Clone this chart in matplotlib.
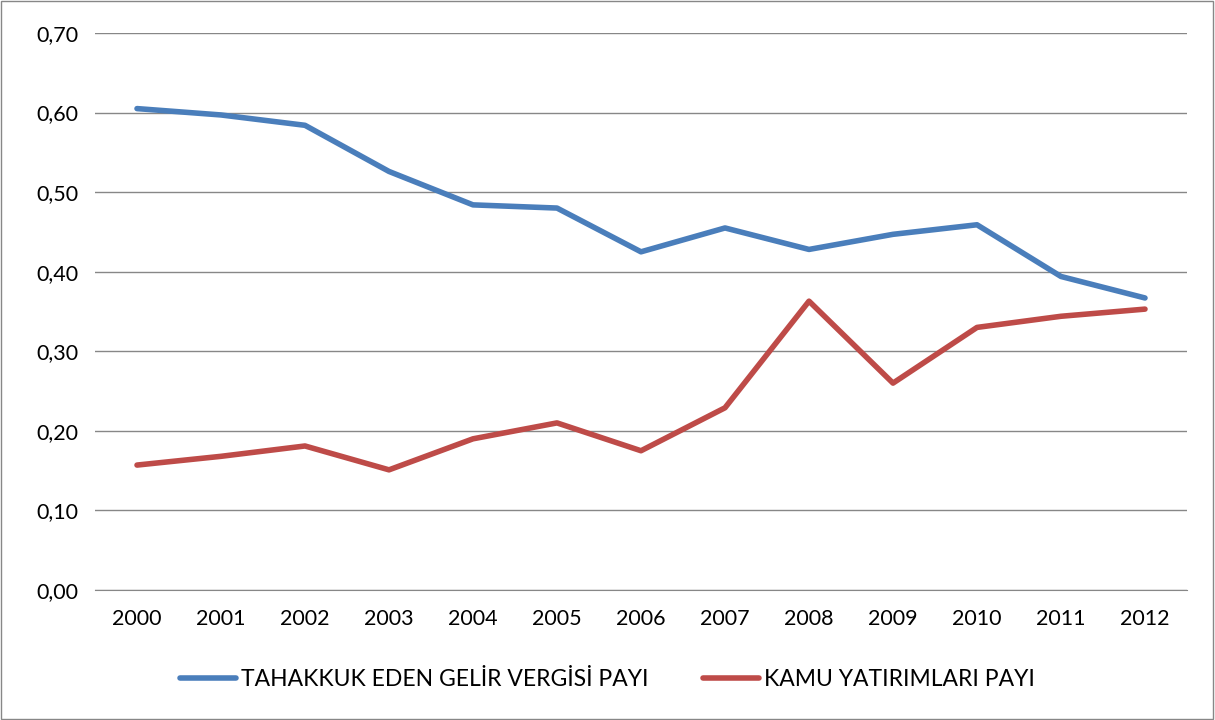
import matplotlib.pyplot as plt
from matplotlib.patches import Rectangle

years = ['2000', '2001', '2002', '2003', '2004', '2005', '2006',
         '2007', '2008', '2009', '2010', '2011', '2012']
gelir = [0.605, 0.597, 0.584, 0.526, 0.484, 0.480, 0.425,
         0.455, 0.428, 0.447, 0.459, 0.394, 0.367]
kamu = [0.157, 0.168, 0.181, 0.151, 0.190, 0.210, 0.175,
        0.229, 0.363, 0.260, 0.330, 0.344, 0.353]
yticks = [0.0, 0.1, 0.2, 0.3, 0.4, 0.5, 0.6, 0.7]

plt.rcParams['font.family'] = ['Lato', 'DejaVu Sans']

W, H = 1215, 720
fig = plt.figure(figsize=(W / 100, H / 100), dpi=100)
ax = fig.add_axes([95 / W, 1 - 590 / H, (1187 - 95) / W, (590 - 33) / H])

x = range(len(years))
ax.plot(x, gelir, color='#4a7ebb', lw=4, label='TAHAKKUK EDEN GELİR VERGİSİ PAYI',
        solid_capstyle='round')
ax.plot(x, kamu, color='#be4b48', lw=4, label='KAMU YATIRIMLARI PAYI',
        solid_capstyle='round')

ax.set_xlim(-0.5, len(years) - 0.5)
ax.set_ylim(0, 0.7)
ax.set_yticks(yticks)
ax.set_yticklabels([f'{v:.2f}'.replace('.', ',') for v in yticks])
ax.set_xticks(list(x))
ax.set_xticklabels(years)
ax.tick_params(axis='both', length=0, labelsize=15.5, colors='black')
ax.tick_params(axis='x', pad=14)
ax.tick_params(axis='y', pad=12)

ax.grid(axis='y', color='#878787', lw=1)
ax.set_axisbelow(True)
for s in ['top', 'right', 'left']:
    ax.spines[s].set_visible(False)
ax.spines['bottom'].set_color('#878787')

fig.legend(loc='center', bbox_to_anchor=(0.5, 1 - 680 / H), ncol=2, frameon=False,
           fontsize=16.5, handlelength=2.45, columnspacing=2.4, handletextpad=0.2)

fig.patches.append(Rectangle((0.001, 0.001), 0.997, 0.997, transform=fig.transFigure,
                             fill=False, edgecolor='#878787', lw=1))

fig.savefig('out.png', dpi=100)
